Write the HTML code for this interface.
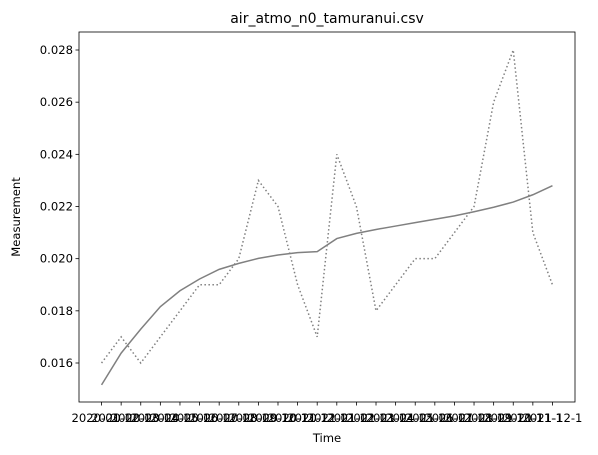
<!DOCTYPE html>
<html><head><meta charset="utf-8"><style>
body{margin:0;background:#fff;}
svg{display:block;font-family:"DejaVu Sans","Liberation Sans",sans-serif;}
</style></head><body>
<svg id="chart" width="598" height="455" viewBox="0 0 598 455" xmlns="http://www.w3.org/2000/svg">
<rect x="0" y="0" width="598" height="455" fill="#fff"/>
<text x="327" y="23" font-size="14" text-anchor="middle">air_atmo_n0_tamuranui.csv</text>
<text x="327" y="442" font-size="11.6" text-anchor="middle">Time</text>
<text transform="translate(20,217) rotate(-90)" font-size="11.6" text-anchor="middle">Measurement</text>
<g id="plot"></g>
</svg>
<script>
const categories = ["2020-01-1","2020-02-1","2020-03-1","2020-04-1","2020-05-1","2020-06-1","2020-07-1","2020-08-1","2020-09-1","2020-10-1","2020-11-1","2020-12-1","2021-01-1","2021-02-1","2021-03-1","2021-04-1","2021-05-1","2021-06-1","2021-07-1","2021-08-1","2021-09-1","2021-10-1","2021-11-1","2021-12-1"];
const trendValues = [0.01516,0.01638,0.0173,0.01816,0.01877,0.01922,0.01959,0.01982,0.02001,0.02014,0.02023,0.02027,0.02077,0.02097,0.02112,0.02125,0.02138,0.02151,0.02164,0.02180,0.02197,0.02217,0.02245,0.0228];
const measuredValues = [0.016,0.017,0.016,0.017,0.018,0.019,0.019,0.020,0.023,0.022,0.019,0.017,0.024,0.022,0.018,0.019,0.020,0.020,0.021,0.022,0.026,0.028,0.021,0.019];
const yTicks = [0.016,0.018,0.020,0.022,0.024,0.026,0.028];

const NS="http://www.w3.org/2000/svg";
const L=79,R=575,T=32,B=402;
const n=categories.length;
const pad=(R-L)/1.1*0.05;
function xScale(i){return L+pad+i*((R-L-2*pad)/(n-1));}
function yScale(v){return 363-(v-0.016)*26083;}
const g=document.getElementById('plot');
function mk(tag,attrs){const e=document.createElementNS(NS,tag);for(const k in attrs)e.setAttribute(k,attrs[k]);g.appendChild(e);return e;}

yTicks.forEach(v=>{
  const y=yScale(v);
  const t=mk('line',{x1:L-3.5,x2:L,y1:y,y2:y,stroke:'#000','stroke-width':0.8});
  
  
  const tx=mk('text',{x:L-6,y:y+4,'font-size':11.6,'text-anchor':'end'});
  tx.textContent=v.toFixed(3);
  
  
});
categories.forEach((c,i)=>{
  const x=xScale(i);
  const t=mk('line',{x1:x,x2:x,y1:B,y2:B+3.5,stroke:'#000','stroke-width':0.8});
  
  
  const tx=mk('text',{x:x,y:B+20,'font-size':11.6,'text-anchor':'middle'});
  tx.textContent=c;
  
  
});
const mp=mk('polyline',{points:measuredValues.map((v,i)=>xScale(i)+','+yScale(v)).join(' '),fill:'none',stroke:'#808080','stroke-width':1.5,'stroke-dasharray':'1.5,2.5'});


const tp=mk('polyline',{points:trendValues.map((v,i)=>xScale(i)+','+yScale(v)).join(' '),fill:'none',stroke:'#808080','stroke-width':1.5});


const fr=mk('rect',{x:L,y:T,width:R-L,height:B-T,fill:'none',stroke:'#000','stroke-width':0.8});


</script>
</body></html>
